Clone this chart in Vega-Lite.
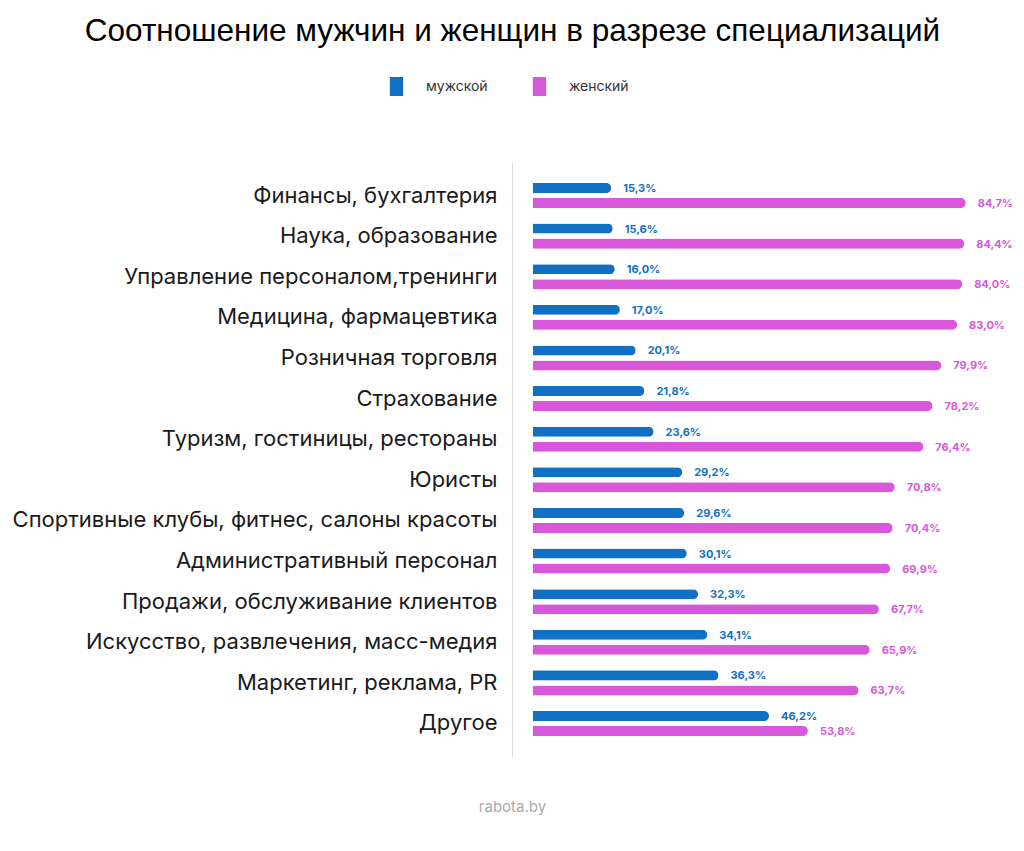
{
  "$schema": "https://vega.github.io/schema/vega-lite/v6.json",
  "width": 491,
  "height": 595,
  "autosize": {"type": "none"},
  "padding": {"left": 533, "top": 162, "right": 0, "bottom": 94},
  "background": "white",
  "config": {
    "view": {"stroke": null},
    "locale": {"number": {"decimal": ",", "thousands": " ", "grouping": [3], "currency": ["", ""]}}
  },
  "title": {
    "text": "Соотношение мужчин и женщин в разрезе специализаций",
    "fontSize": 31.5,
    "font": "Liberation Sans",
    "fontWeight": "normal",
    "color": "#000000",
    "anchor": "middle",
    "dx": -266,
    "offset": 30
  },
  "data": {
    "values": [
      {"cat": "Финансы, бухгалтерия", "sex": "мужской", "v": 0.153},
      {"cat": "Финансы, бухгалтерия", "sex": "женский", "v": 0.847},
      {"cat": "Наука, образование", "sex": "мужской", "v": 0.156},
      {"cat": "Наука, образование", "sex": "женский", "v": 0.844},
      {"cat": "Управление персоналом,тренинги", "sex": "мужской", "v": 0.160},
      {"cat": "Управление персоналом,тренинги", "sex": "женский", "v": 0.840},
      {"cat": "Медицина, фармацевтика", "sex": "мужской", "v": 0.170},
      {"cat": "Медицина, фармацевтика", "sex": "женский", "v": 0.830},
      {"cat": "Розничная торговля", "sex": "мужской", "v": 0.201},
      {"cat": "Розничная торговля", "sex": "женский", "v": 0.799},
      {"cat": "Страхование", "sex": "мужской", "v": 0.218},
      {"cat": "Страхование", "sex": "женский", "v": 0.782},
      {"cat": "Туризм, гостиницы, рестораны", "sex": "мужской", "v": 0.236},
      {"cat": "Туризм, гостиницы, рестораны", "sex": "женский", "v": 0.764},
      {"cat": "Юристы", "sex": "мужской", "v": 0.292},
      {"cat": "Юристы", "sex": "женский", "v": 0.708},
      {"cat": "Спортивные клубы, фитнес, салоны красоты", "sex": "мужской", "v": 0.296},
      {"cat": "Спортивные клубы, фитнес, салоны красоты", "sex": "женский", "v": 0.704},
      {"cat": "Административный персонал", "sex": "мужской", "v": 0.301},
      {"cat": "Административный персонал", "sex": "женский", "v": 0.699},
      {"cat": "Продажи, обслуживание клиентов", "sex": "мужской", "v": 0.323},
      {"cat": "Продажи, обслуживание клиентов", "sex": "женский", "v": 0.677},
      {"cat": "Искусство, развлечения, масс-медия", "sex": "мужской", "v": 0.341},
      {"cat": "Искусство, развлечения, масс-медия", "sex": "женский", "v": 0.659},
      {"cat": "Маркетинг, реклама, PR", "sex": "мужской", "v": 0.363},
      {"cat": "Маркетинг, реклама, PR", "sex": "женский", "v": 0.637},
      {"cat": "Другое", "sex": "мужской", "v": 0.462},
      {"cat": "Другое", "sex": "женский", "v": 0.538}
    ]
  },
  "encoding": {
    "y": {
      "field": "cat",
      "type": "nominal",
      "sort": null,
      "scale": {"paddingOuter": 0.325, "paddingInner": 0},
      "axis": {
        "title": null,
        "ticks": false,
        "domain": true,
        "domainColor": "#dddddd",
        "domainWidth": 1,
        "offset": 21,
        "labelPadding": 15,
        "labelFontSize": 22,
        "labelFont": "Inter",
        "labelColor": "#1a1a1a",
        "labelLimit": 600,
        "grid": false
      }
    },
    "yOffset": {
      "field": "sex",
      "type": "nominal",
      "sort": null,
      "scale": {"paddingInner": 0.333, "paddingOuter": 0.52}
    },
    "x": {
      "field": "v",
      "type": "quantitative",
      "scale": {"domain": [0, 0.961], "nice": false},
      "axis": {
        "labels": false,
        "ticks": false,
        "domain": false,
        "grid": false,
        "title": "rabota.by",
        "titleX": -21,
        "titleY": 49,
        "titleAlign": "center",
        "titleBaseline": "middle",
        "titleColor": "#aaaaaa",
        "titleFontSize": 15,
        "titleFontWeight": "normal",
        "titleFont": "Inter"
      }
    },
    "color": {
      "field": "sex",
      "type": "nominal",
      "sort": null,
      "scale": {"domain": ["мужской", "женский"], "range": ["#1170c4", "#d957db"]},
      "legend": {
        "title": null,
        "orient": "none",
        "direction": "horizontal",
        "legendX": -146,
        "legendY": -85,
        "padding": 0,
        "symbolType": "M-0.7,-1H0.7V1H-0.7Z",
        "symbolSize": 361,
        "symbolStrokeWidth": 0,
        "labelFontSize": 14,
        "labelFont": "Inter",
        "labelColor": "#333333",
        "labelOffset": 20,
        "columnPadding": 42
      }
    }
  },
  "layer": [
    {"mark": {"type": "bar", "cornerRadiusEnd": 5}},
    {
      "mark": {"type": "text", "align": "left", "baseline": "middle", "dx": 12, "dy": 1, "fontSize": 11, "fontWeight": "bold", "font": "Inter"},
      "encoding": {"text": {"field": "v", "type": "quantitative", "format": ".1%"}}
    }
  ]
}
